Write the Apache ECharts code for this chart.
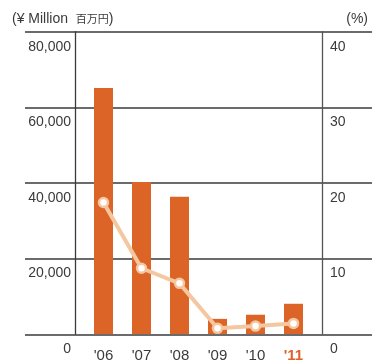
<!DOCTYPE html>
<html><head><meta charset="utf-8">
<script src="https://cdn.jsdelivr.net/npm/echarts@6/dist/echarts.min.js"></script>
<style>html,body{margin:0;padding:0;background:#fff}#c{width:386px;height:363px}</style>
</head><body><div id="c"></div>
<script>
const categories = ["'06", "'07", "'08", "'09", "'10", "'11"];
const amountValues = [65100, 40200, 36300, 4000, 5100, 8000];
const ratioValues = [17.4, 8.7, 6.7, 0.75, 1.05, 1.4];
const leftTicks = [0, 20000, 40000, 60000, 80000];
const rightTicks = [0, 10, 20, 30, 40];

const FONT = 'Liberation Sans, Arial, sans-serif';
const TXT = '#3a3a3a';
const ORANGE = '#DD6427';
const gridTop = 31.7, gridBottom = 28.7;

const chart = echarts.init(document.getElementById('c'), null, {renderer: 'canvas'});
chart.setOption({
  animation: false,
  backgroundColor: '#fff',
  textStyle: {fontFamily: FONT},
  title: [
    {left: 7, top: 7, text: '{a|(¥ Million  }{b|百万円}{a|)}', textStyle: {fontWeight: 'normal', rich: {
      a: {fontSize: 14, color: TXT, fontFamily: FONT, fontWeight: 'normal'},
      b: {fontSize: 11, color: TXT, fontFamily: 'Noto Sans CJK JP', fontWeight: 'normal'}}}},
    {right: 13, top: 7, text: '(%)', textStyle: {fontSize: 14, fontWeight: 'normal', color: TXT, fontFamily: FONT}}
  ],
  grid: [
    {left: 25, right: 14, top: gridTop, bottom: gridBottom},
    {left: 84.5, right: 73.5, top: gridTop, bottom: gridBottom}
  ],
  xAxis: [
    {gridIndex: 0, type: 'category', data: categories, show: false},
    {gridIndex: 1, type: 'category', data: categories,
     axisLine: {show: false}, axisTick: {show: false},
     axisLabel: {interval: 0, margin: 14, fontSize: 15, color: TXT, fontFamily: FONT,
       formatter: function (v, i) { return i === categories.length - 1 ? '{h|' + v + '}' : v; },
       rich: {h: {fontSize: 15, fontWeight: 'bold', color: ORANGE, fontFamily: FONT}}}}
  ],
  yAxis: [
    {gridIndex: 0, type: 'value', min: leftTicks[0], max: leftTicks[leftTicks.length - 1], interval: 20000,
     axisLine: {show: false}, axisTick: {show: false}, axisLabel: {show: false},
     splitLine: {show: true, lineStyle: {color: '#3a3a3a', width: 1.5}}},
    {gridIndex: 1, type: 'value', position: 'left', offset: 9.5,
     min: leftTicks[0], max: leftTicks[leftTicks.length - 1], interval: 20000,
     axisLine: {show: true, lineStyle: {color: '#3a3a3a', width: 1.3}}, axisTick: {show: false},
     splitLine: {show: false},
     axisLabel: {margin: 4, fontSize: 14, color: TXT, fontFamily: FONT, verticalAlign: 'top', padding: [8, 0, 0, 0],
       formatter: function (v) { return v.toLocaleString('en-US'); }}},
    {gridIndex: 1, type: 'value', position: 'right', offset: 9.5,
     min: rightTicks[0], max: rightTicks[rightTicks.length - 1], interval: 10,
     axisLine: {show: true, lineStyle: {color: '#555', width: 1.3}}, axisTick: {show: false},
     splitLine: {show: false},
     axisLabel: {margin: 8, fontSize: 14, color: TXT, fontFamily: FONT, verticalAlign: 'top', padding: [8, 0, 0, 0]}}
  ],
  series: [
    {type: 'bar', xAxisIndex: 1, yAxisIndex: 1, data: amountValues, barWidth: 19,
     itemStyle: {color: ORANGE}, z: 2},
    {type: 'line', xAxisIndex: 1, yAxisIndex: 2, data: ratioValues,
     lineStyle: {color: '#F4C7A1', width: 4}, symbol: 'circle', symbolSize: 9,
     itemStyle: {color: '#fff', borderColor: '#F4C7A1', borderWidth: 2.5}, z: 3}
  ]
});
</script></body></html>
